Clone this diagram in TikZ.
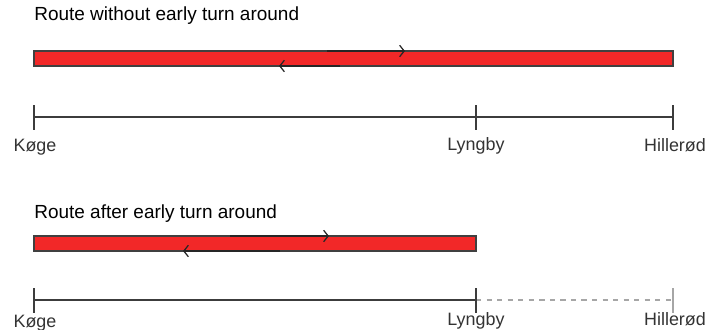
\documentclass[tikz,border=0pt]{standalone}
\usepackage{fontspec}
\setmainfont{Liberation Sans}
\usetikzlibrary{arrows,arrows.meta}

\definecolor{routered}{RGB}{242,40,40}
\definecolor{axisgray}{RGB}{60,60,60}

\tikzset{
  title/.style={anchor=base west,inner sep=0pt,font=\fontsize{10.8}{13}\selectfont},
  stop/.style={anchor=base,inner sep=0pt,font=\fontsize{10.2}{12}\selectfont,text=black!80},
  route/.style={fill=routered,draw=black!75,line width=0.6pt},
  dir/.style={black!85,line width=0.7pt,->,>={Straight Barb[length=2.6pt,width=6.5pt]}},
  tick/.style={axisgray,line width=0.8pt},
}

\begin{document}
\begin{tikzpicture}[x=0.02cm,y=-0.02cm]
  \useasboundingbox (0,0) rectangle (708,329);

  % without early turn around
  \node[title] (t1) at (34,20) {Route without early turn around};
  \draw[route] (34,51) rectangle (673,66);
  \draw[dir] (327,51) -- (405,51);
  \draw[dir] (340,66) -- (279,66);

  \coordinate (k1) at (34,117);
  \coordinate (l1) at (476,117);
  \coordinate (h1) at (673,117);
  \draw[tick] (k1) -- (h1);
  \foreach \p in {k1,l1,h1}
    \draw[tick] (\p) ++(0,-12) -- ++(0,25);
  \node[stop] (koge1) at (35,151) {Køge};
  \node[stop] (lyngby1) at (476,150) {Lyngby};
  \node[stop] (hillerod1) at (675,151) {Hillerød};

  % after early turn around
  \node[title] (t2) at (34,218) {Route after early turn around};
  \draw[route] (34,236) rectangle (476,251);
  \draw[dir] (230,236) -- (329,236);
  \draw[dir] (280,251) -- (183,251);

  \coordinate (k2) at (34,300);
  \coordinate (l2) at (476,300);
  \coordinate (h2) at (673,300);
  \draw[tick] (k2) -- (l2);
  \draw[black!35,line width=0.7pt,dashed] (l2) -- (h2);
  \draw[tick] (k2) ++(0,-12) -- ++(0,25);
  \draw[tick] (l2) ++(0,-12) -- ++(0,25);
  \draw[black!35,line width=0.7pt] (h2) ++(0,-12) -- ++(0,25);
  \node[stop] (koge2) at (35,327) {Køge};
  \node[stop] (lyngby2) at (476,325) {Lyngby};
  \node[stop] (hillerod2) at (675,325) {Hillerød};
\end{tikzpicture}
\end{document}
